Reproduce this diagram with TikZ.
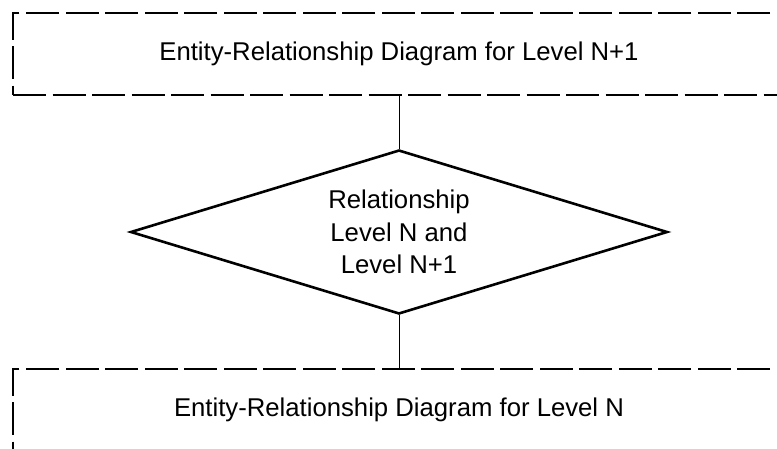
\documentclass[tikz,border=0pt]{standalone}
\usepackage{fontspec}
\setmainfont{Liberation Sans}
\usepackage{tikz}
\usetikzlibrary{shapes.geometric}

\tikzset{
	levelbox/.style={draw, line width=2.7pt, dash pattern=on 33pt off 6.5pt, minimum width=772pt, minimum height=82pt, inner sep=0pt, font=\fontsize{25.7}{32.5}\selectfont},
	relbox/.style={draw, diamond, line width=2.6pt, aspect=3.27, minimum width=537pt, minimum height=164pt, inner sep=0pt, align=center, font=\fontsize{25.7}{32.5}\selectfont},
	link/.style={line width=1pt}
}

\begin{document}
\begin{tikzpicture}[x=1pt, y=-1pt]
					\useasboundingbox (0,0) rectangle (777,448);
					\node[levelbox] (upper) at (399,54) {Entity-Relationship Diagram for Level N+1};
					\node[relbox] (rel) at (399,232) {Relationship\\Level N and\\Level N+1};
					\node[levelbox] (lower) at (399,410) {Entity-Relationship Diagram for Level N};
					\draw[link] (upper.south) -- (rel.north);
					\draw[link] (rel.south) -- (lower.north);
				\end{tikzpicture}
\end{document}
